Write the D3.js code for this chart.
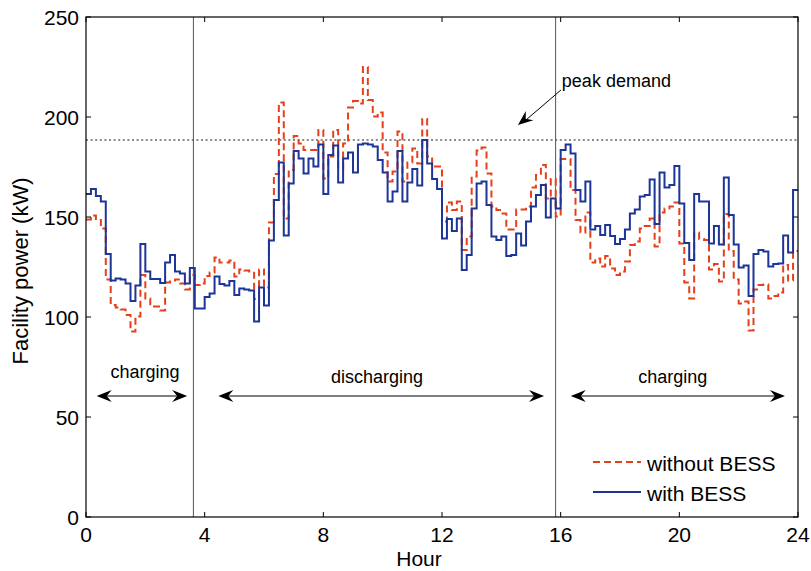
<!DOCTYPE html>
<html>
<head>
<title>Facility power with and without BESS</title>
<script src="https://d3js.org/d3.v7.min.js"></script>
<style>
  body { margin: 0; background: #fff; }
  text { font-family: "Liberation Sans", Arial, sans-serif; fill: #000; }
</style>
</head>
<body>
<div id="chart"></div>
<script>
// 10-minute samples over 24 h (kW)
var withoutBess = [
  148.8,150.7,148.5,144.3,118.8,106,104.8,103.8,101,92.7,100.2,121,
  109.3,105.2,105.2,103.2,117.2,117.7,118.8,116.8,113.8,121,116,116.8,
  120.5,122.2,129.8,127.2,127.2,128.2,120.2,123.8,123.2,122.7,109,123.8,
  114.8,147.2,171.5,207.2,149.3,173.5,190.5,186.8,183.5,183.5,183.5,193.5,
  169.3,180.2,193.5,174.3,186.8,204.8,208,206.8,225,208.5,200.2,202.2,
  182.3,167.7,172.7,192.7,167.7,177.2,184.3,176.8,199,180.2,175.2,175.2,
  147.7,157.2,153.5,157.7,133.5,140.2,170.2,183.2,184.7,171.8,155.2,153.5,
  151.8,143.8,143.8,153.8,153.8,155.2,164.8,171,176,159.3,169,150.2,
  179,179,163.5,148.5,142.2,152.2,127.2,129.3,125.2,130.5,124.3,121,
  122.7,127.7,136,137.7,144.3,145.5,149.3,135.2,152.2,154.3,155.2,157.2,
  136.8,117.2,109.3,142.3,139,138.5,123.8,126.5,117.7,151.5,133,118.8,
  106.8,107.7,93.2,113.8,116,116.3,109.3,110.5,112.2,126,118.2,133
];
var withBess = [
  161.5,164,160.5,157.7,131.5,118.3,119.3,118.8,116.8,108,115.7,136.5,
  122.7,119,119,117,127.3,131,122.7,121.8,116.8,124.5,104.3,104.3,
  110,111.8,120.2,116.5,115.8,118,111,114.2,113.8,113.2,97.7,114.8,
  105.7,138.2,158.5,177.2,140.8,166.8,183,179.3,171.8,179.3,175.2,186.3,
  161.5,181,185.7,167.2,179.3,182.2,172.3,186.2,186.8,186.3,185.2,178.5,
  172.3,157.7,162.8,183,157.7,167.2,174,165.7,188.5,176.8,169,164,
  139.3,149,143,149.3,123.5,131,154.3,166.8,167.7,156,140.2,138.5,
  140.2,130.5,131,141.8,135.7,147.7,155.2,161,166,149.7,159.3,154.3,
  183.5,186.3,181.8,163.5,157.7,167.7,143.8,145.5,141,146,140.5,136.5,
  139,143.8,151.8,153.8,160.2,161,168.8,146.5,172.2,164.7,166,175.5,
  156.8,137,128.5,161.5,157.7,157.7,136.8,145.5,136.3,169.8,151,136.3,
  124.7,125.7,110.5,131.5,133.5,132.7,125.2,126.5,126.8,140.7,132.2,163.5
];
var xTicks = [0, 4, 8, 12, 16, 20, 24];
var yTicks = [0, 50, 100, 150, 200, 250];
var peakDemand = 188.5;
var phaseBounds = [3.62, 15.83];
var phaseLabels = ["charging", "discharging", "charging"];
var phaseLabelHour = [1.99, 9.81, 19.78];
var phaseLabelKw = [69.5, 67, 67];
var phaseArrowFrom = [0.36, 4.46, 16.34];
var phaseArrowTo = [3.41, 15.44, 23.56];
var phaseArrowKw = 60.5;
var seriesNames = ["without BESS", "with BESS"];

var width = 811, height = 571;
var red = "#e5401a", blue = "#1c3596";

var svg = d3.select("#chart").append("svg")
  .attr("width", width).attr("height", height);

var x = d3.scaleLinear().domain([0, 24]).range([86, 798]);
var y = d3.scaleLinear().domain([0, 250]).range([517, 17]);

function toPoints(vals) {
  var pts = vals.map(function(v, i) { return [i / 6, v]; });
  pts.push([24, vals[vals.length - 1]]);
  return pts;
}

var line = d3.line()
  .x(function(d) { return x(d[0]); })
  .y(function(d) { return y(d[1]); })
  .curve(d3.curveStepAfter);

// peak demand reference
svg.append("line")
  .attr("x1", x(0)).attr("x2", x(24))
  .attr("y1", y(peakDemand)).attr("y2", y(peakDemand))
  .attr("stroke", "#8a8a8a").attr("stroke-width", 2)
  .attr("stroke-dasharray", "2,2.6");

// phase boundaries
phaseBounds.forEach(function(h) {
  svg.append("line")
    .attr("x1", x(h)).attr("x2", x(h))
    .attr("y1", y(0)).attr("y2", y(250))
    .attr("stroke", "#555").attr("stroke-width", 1);
});

svg.append("path").datum(toPoints(withoutBess))
  .attr("d", line).attr("fill", "none")
  .attr("stroke", red).attr("stroke-width", 2)
  .attr("stroke-dasharray", "7,4");

svg.append("path").datum(toPoints(withBess))
  .attr("d", line).attr("fill", "none")
  .attr("stroke", blue).attr("stroke-width", 2);

// axes (box with inward ticks on all sides)
var axisG = svg.append("g");
axisG.append("rect")
  .attr("x", x(0)).attr("y", y(250))
  .attr("width", x(24) - x(0)).attr("height", y(0) - y(250))
  .attr("fill", "none").attr("stroke", "#000").attr("stroke-width", 1.2);

xTicks.forEach(function(t) {
  axisG.append("line").attr("x1", x(t)).attr("x2", x(t))
    .attr("y1", y(0)).attr("y2", y(0) - 5).attr("stroke", "#000");
  axisG.append("line").attr("x1", x(t)).attr("x2", x(t))
    .attr("y1", y(250)).attr("y2", y(250) + 5).attr("stroke", "#000");
  axisG.append("text").attr("x", x(t)).attr("y", 542)
    .attr("text-anchor", "middle").attr("font-size", 21).text(t);
});
yTicks.forEach(function(t) {
  axisG.append("line").attr("x1", x(0)).attr("x2", x(0) + 5)
    .attr("y1", y(t)).attr("y2", y(t)).attr("stroke", "#000");
  axisG.append("line").attr("x1", x(24)).attr("x2", x(24) - 5)
    .attr("y1", y(t)).attr("y2", y(t)).attr("stroke", "#000");
  axisG.append("text").attr("x", 79).attr("y", y(t) + 8)
    .attr("text-anchor", "end").attr("font-size", 21).text(t);
});

svg.append("text").attr("x", 419).attr("y", 566)
  .attr("text-anchor", "middle").attr("font-size", 21).text("Hour");
svg.append("text")
  .attr("transform", "translate(28,271) rotate(-90)")
  .attr("text-anchor", "middle").attr("font-size", 22)
  .text("Facility power (kW)");

// arrowhead: tip at (0,0) pointing along +x
function arrowHead(px, py, angle) {
  svg.append("path")
    .attr("d", "M0,0 L-15,-6 L-10,0 L-15,6 Z")
    .attr("transform", "translate(" + px + "," + py + ") rotate(" + angle + ")")
    .attr("fill", "#000");
}

phaseLabels.forEach(function(lab, i) {
  svg.append("text")
    .attr("x", x(phaseLabelHour[i])).attr("y", y(phaseLabelKw[i]))
    .attr("text-anchor", "middle").attr("font-size", 18).text(lab);
  var x1 = x(phaseArrowFrom[i]), x2 = x(phaseArrowTo[i]), ay = y(phaseArrowKw);
  svg.append("line").attr("x1", x1 + 8).attr("x2", x2 - 8)
    .attr("y1", ay).attr("y2", ay).attr("stroke", "#000").attr("stroke-width", 1);
  arrowHead(x1, ay, 180);
  arrowHead(x2, ay, 0);
});

// peak demand annotation
var ax0 = x(16.01), ay0 = y(213.5), ax1 = x(14.56), ay1 = y(196);
svg.append("line").attr("x1", ax0).attr("y1", ay0)
  .attr("x2", ax1 + 0.85 * 9).attr("y2", ay1 - 0.52 * 9)
  .attr("stroke", "#000").attr("stroke-width", 1);
arrowHead(ax1, ay1, Math.atan2(ay1 - ay0, ax1 - ax0) * 180 / Math.PI);
svg.append("text").attr("x", x(16.04)).attr("y", y(215))
  .attr("font-size", 18).text("peak demand");

// legend
var legend = svg.append("g");
seriesNames.forEach(function(name, i) {
  var ly = 462 + i * 30;
  legend.append("line").attr("x1", 593).attr("x2", 641)
    .attr("y1", ly).attr("y2", ly)
    .attr("stroke", i === 0 ? red : blue).attr("stroke-width", 2)
    .attr("stroke-dasharray", i === 0 ? "7,4" : null);
  legend.append("text").attr("x", 647).attr("y", ly + 9)
    .attr("font-size", 21).text(name);
});
</script>
</body>
</html>
